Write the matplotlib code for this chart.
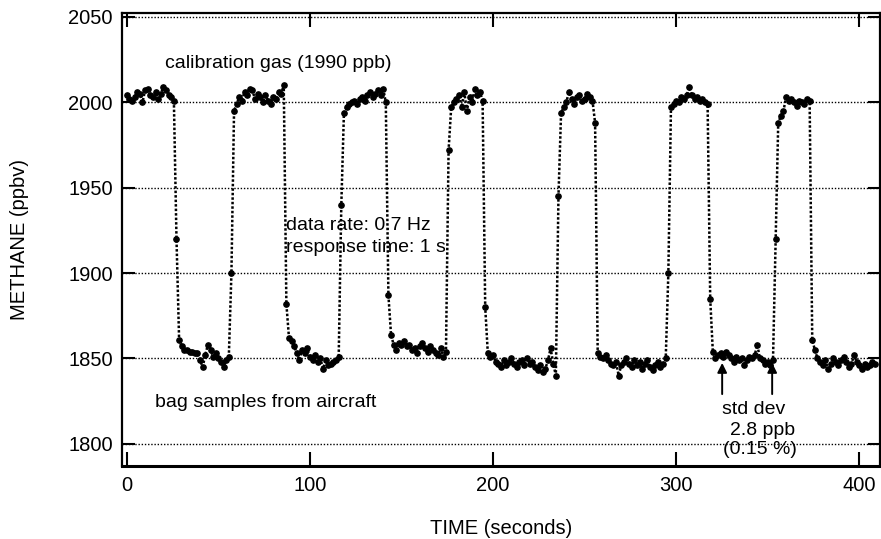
import numpy as np
import matplotlib
matplotlib.use("Agg")
import matplotlib.pyplot as plt

plt.rcParams['font.family'] = ['Liberation Sans', 'DejaVu Sans']

# sample clock of the analyser (from the annotation on the chart)
data_rate_hz = 0.7

# methane readings (ppbv), segment by segment
cal1 = [2004, 2002, 2001, 2003, 2006, 2005, 2000, 2007, 2008, 2004,
        2003, 2006, 2002, 2005, 2009, 2007, 2004, 2003, 2001]
drop1 = [1920]
low1 = [1861, 1857, 1855, 1855, 1854, 1854, 1853, 1853, 1849, 1845,
        1852, 1858, 1855, 1851, 1853, 1850, 1848, 1845, 1849, 1851]
rise1 = [1900]
cal2 = [1995, 1999, 2003, 2001, 2006, 2004, 2008, 2007, 2002, 2005,
        2003, 2000, 2004, 2001, 1999, 2003, 2002, 2006, 2005, 2010]
drop2 = [1882]
low2 = [1862, 1860, 1857, 1853, 1849, 1855, 1853, 1856, 1851, 1849,
        1852, 1848, 1850, 1844, 1849, 1846, 1847, 1848, 1849, 1851]
rise2 = [1940]
cal3 = [1994, 1997, 1999, 2000, 2001, 1999, 2002, 2003, 2001, 2004,
        2006, 2003, 2005, 2007, 2004, 2008, 2000]
drop3 = [1887]
low3 = [1864, 1858, 1855, 1859, 1858, 1860, 1857, 1858, 1855, 1856, 1853,
        1857, 1859, 1856, 1854, 1857, 1855, 1853, 1852, 1856, 1851, 1854]
rise3 = [1972]
cal4 = [1997, 2000, 2002, 2004, 1997, 2006, 1995, 2003, 2000, 2008,
        2004, 2006, 2001]
drop4 = [1880]
low4 = [1853, 1851, 1852, 1848, 1847, 1845, 1849, 1846, 1848, 1850,
        1847, 1845, 1848, 1849, 1846, 1850, 1847, 1848, 1845, 1843,
        1846, 1842, 1844, 1849, 1856, 1847, 1840]
rise4 = [1945]
cal5 = [1994, 1997, 2000, 2006, 2002, 1999, 2003, 2004, 2001, 2002,
        2005, 2003, 2001]
drop5 = [1988]
low5 = [1853, 1851, 1850, 1852, 1849, 1847, 1846, 1848, 1840, 1846,
        1848, 1850, 1847, 1845, 1849, 1846, 1848, 1844, 1847, 1849,
        1845, 1843, 1846, 1848, 1845, 1847, 1850]
rise5 = [1900]
cal6 = [1997, 1999, 2001, 2000, 2003, 2002, 2004, 2009, 2004, 2002,
        2003, 2001, 2002, 2000, 1999]
drop6 = [1885]
low6 = [1854, 1850, 1852, 1853, 1851, 1854, 1852, 1850, 1848, 1851,
        1849, 1850, 1846, 1849, 1851, 1850, 1852, 1858, 1850, 1849,
        1847, 1848, 1846, 1849]
rise6 = [1920]
cal7 = [1988, 1992, 1995, 2003, 2001, 2002, 2000, 1998, 2001, 2000,
        1999, 2002, 2001]
drop7 = [1861]
low7 = [1855, 1850, 1848, 1846, 1849, 1844, 1847, 1850, 1848, 1846,
        1849, 1851, 1848, 1845, 1847, 1852, 1848, 1846, 1844, 1847,
        1845, 1846, 1848, 1847]

methane = np.array(cal1 + drop1 + low1 + rise1 + cal2 + drop2 + low2 + rise2 +
                   cal3 + drop3 + low3 + rise3 + cal4 + drop4 + low4 + rise4 +
                   cal5 + drop5 + low5 + rise5 + cal6 + drop6 + low6 + rise6 +
                   cal7 + drop7 + low7, dtype=float)
time_s = np.arange(len(methane)) / data_rate_hz

x_ticks = [0, 100, 200, 300, 400]
y_ticks = [1800, 1850, 1900, 1950, 2000, 2050]

fig = plt.figure(figsize=(8.81, 5.39), dpi=100)
ax = fig.add_axes([0.1385, 0.1354, 0.8604, 0.8405])

ax.plot(time_s, methane, color='black', lw=1.8, ls=(0, (1, 0.8)),
        marker='o', ms=3.8, mec='black', mfc='black', zorder=3)

ax.set_xlim(-2.6, 411.3)
ax.set_ylim(1787, 2052.3)
ax.set_xticks(x_ticks)
ax.set_yticks(y_ticks)

for y in y_ticks:
    ax.axhline(y, color='black', lw=1.0, ls=(0, (1, 1.3)), zorder=1)

for s in ax.spines.values():
    s.set_linewidth(1.6)
ax.spines['bottom'].set_linewidth(2.2)

ax.tick_params(axis='x', direction='in', top=True, length=10, width=1.5,
               labelsize=14.5, pad=7)
ax.tick_params(axis='y', direction='in', right=True, length=9, width=1.5,
               labelsize=14.5, pad=6.5)

ax.set_xlabel('TIME (seconds)', fontsize=14.5)
ax.xaxis.set_label_coords(0.5, -0.117)
ax.set_ylabel('METHANE (ppbv)', fontsize=14.5)
ax.yaxis.set_label_coords(-0.123, 0.5)

fs = 14
ax.text(20.9, 2023, 'calibration gas (1990 ppb)', fontsize=fs, va='center')
ax.text(87, 1928, 'data rate: 0.7 Hz', fontsize=fs, va='center')
ax.text(87, 1915, 'response time: 1 s', fontsize=fs, va='center')
ax.text(15.5, 1824, 'bag samples from aircraft', fontsize=fs, va='center')
ax.text(342.4, 1820, 'std dev', fontsize=fs, va='center', ha='center')
ax.text(347.2, 1808, '2.8 ppb', fontsize=fs, va='center', ha='center')
ax.text(345.8, 1796.5, '(0.15 %)', fontsize=fs, va='center', ha='center')

for xa in [325.1, 352.4]:
    ax.annotate('', xy=(xa, 1849), xytext=(xa, 1827.5),
                arrowprops=dict(arrowstyle='-|>', color='black', lw=1.4,
                                mutation_scale=14))

fig.savefig('out.png', dpi=100)
